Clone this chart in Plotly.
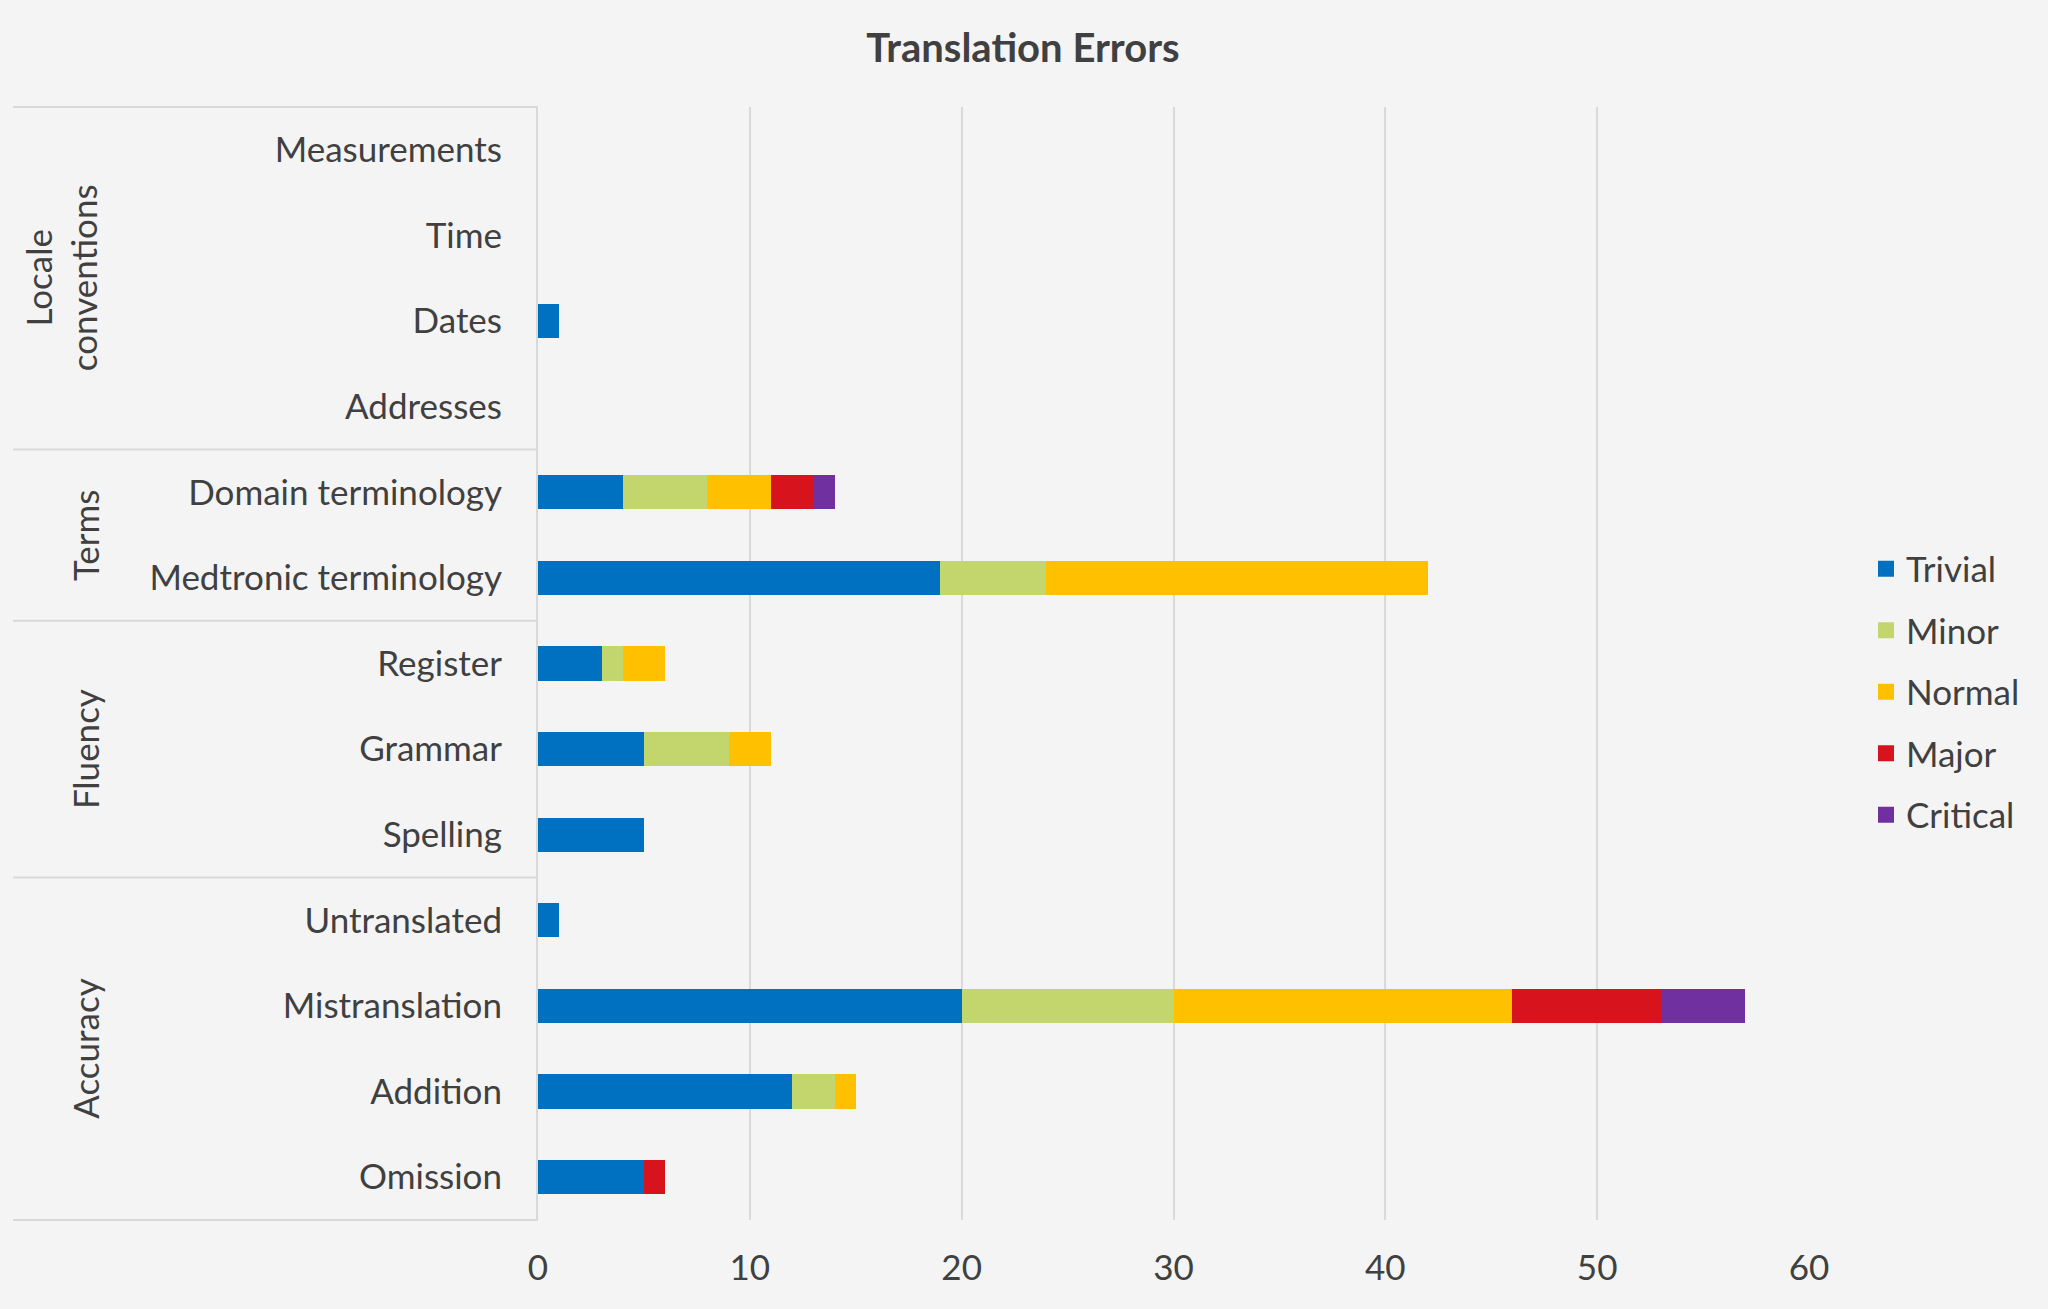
import plotly.graph_objects as go

categories = ["Omission", "Addition", "Mistranslation", "Untranslated",
              "Spelling", "Grammar", "Register",
              "Medtronic terminology", "Domain terminology",
              "Addresses", "Dates", "Time", "Measurements"]
groups = [("Accuracy", 0, 3), ("Fluency", 4, 6), ("Terms", 7, 8), ("Locale<br>conventions", 9, 12)]

trivial  = [5, 12, 20, 1, 5, 5, 3, 19, 4, 0, 1, 0, 0]
minor    = [0, 2, 10, 0, 0, 4, 1, 5, 4, 0, 0, 0, 0]
normal   = [0, 1, 16, 0, 0, 2, 2, 18, 3, 0, 0, 0, 0]
major    = [1, 0, 7, 0, 0, 0, 0, 0, 2, 0, 0, 0, 0]
critical = [0, 0, 4, 0, 0, 0, 0, 0, 1, 0, 0, 0, 0]

series = [("Trivial", trivial, "#0070C0"), ("Minor", minor, "#C3D66E"),
          ("Normal", normal, "#FFC000"), ("Major", major, "#D7141E"),
          ("Critical", critical, "#7030A0")]

x_ticks = [0, 10, 20, 30, 40, 50, 60]

FONT = "Lato"
TXT = "#404040"
FS = 35
W, H = 2048, 1309
L, R, T, B = 538, 2048 - 1809, 107, 1309 - 1220
PW = W - L - R
PH = H - T - B

fig = go.Figure()
for i, (name, vals, col) in enumerate(series):
    fig.add_trace(go.Bar(
        y=categories, x=vals, name=name, orientation="h",
        marker=dict(color=col, line=dict(width=0)),
        legendgroup=name, showlegend=False,
    ))
# legend entries (larger square swatches)
for name, vals, col in series:
    fig.add_trace(go.Scatter(
        x=[None], y=[None], mode="markers", name=name, legendgroup=name,
        marker=dict(symbol="square", size=20, color=col), showlegend=True,
    ))

n = len(categories)
def py(v):
    return (v + 0.5) / n

shapes = []
boundaries = [-0.5, 3.5, 6.5, 8.5, 12.5]
for b in boundaries:
    shapes.append(dict(type="line", xref="paper", yref="paper",
                       x0=(13 - L) / PW, x1=0, y0=py(b), y1=py(b),
                       line=dict(color="#d9d9d9", width=2)))

annotations = []
for name, a, b in groups:
    xpx = 61 if "Locale" in name else 85
    annotations.append(dict(text=name, xref="paper", yref="paper",
                            x=(xpx - L) / PW, y=py((a + b) / 2),
                            xanchor="center", yanchor="middle",
                            textangle=-90, showarrow=False,
                            font=dict(family=FONT, size=FS, color=TXT)))

fig.update_layout(
    width=W, height=H,
    margin=dict(l=L, r=R, t=T, b=B),
    paper_bgcolor="#f4f4f4", plot_bgcolor="#f4f4f4",
    barmode="stack", bargap=0.6,
    font=dict(family=FONT, size=FS, color=TXT),
    title=dict(text="<b>Translation Errors</b>", x=1023 / W, xref="container",
               y=1 - 48 / H, yref="container", yanchor="middle", xanchor="center",
               font=dict(family=FONT, size=40, color=TXT)),
    xaxis=dict(range=[0, 60], tickvals=x_ticks, showgrid=True,
               gridcolor="#d9d9d9", gridwidth=2, zeroline=False,
               showline=False, ticks="", ticklabelstandoff=24,
               tickfont=dict(family=FONT, size=FS, color=TXT)),
    yaxis=dict(categoryorder="array", categoryarray=categories,
               range=[-0.5, n - 0.5], showgrid=False, zeroline=False,
               showline=True, linecolor="#d9d9d9", linewidth=2,
               ticks="", ticklabelstandoff=27,
               tickfont=dict(family=FONT, size=FS, color=TXT)),
    legend=dict(x=(1866 - L) / PW, y=1 - (692 - T) / PH, yanchor="middle",
                xanchor="left", bgcolor="rgba(0,0,0,0)",
                tracegroupgap=13, traceorder="grouped", itemsizing="trace",
                font=dict(family=FONT, size=FS, color=TXT)),
    shapes=shapes, annotations=annotations,
)

fig.write_html("out.html", config={"displayModeBar": False},
               post_script="document.body.style.margin='0';")
